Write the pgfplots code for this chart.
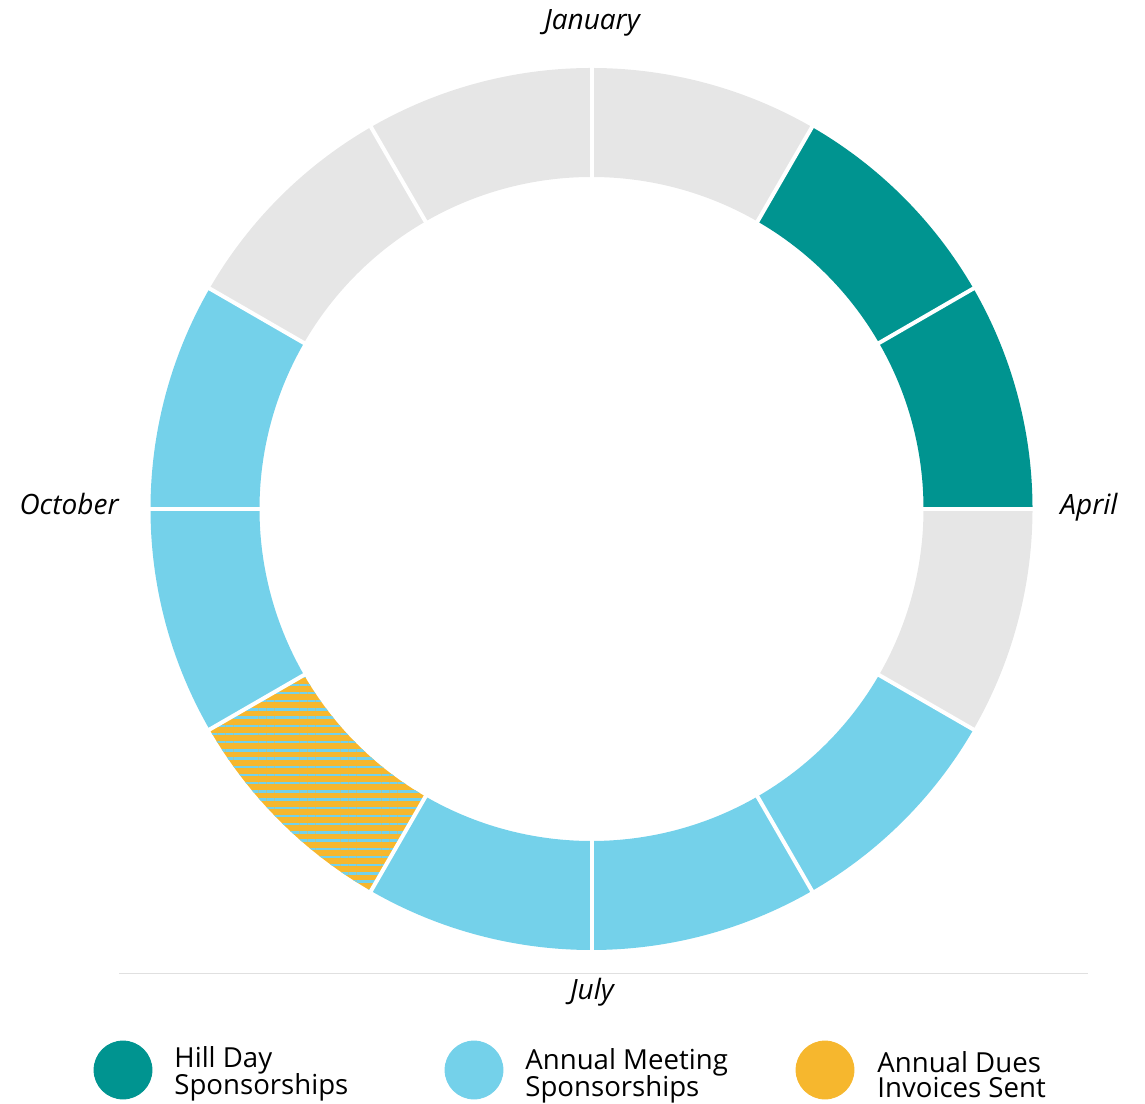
\documentclass[border=0pt]{standalone}
\usepackage{pgfplots}
\pgfplotsset{compat=1.18}
\usepackage{pgfplotstable}
\usetikzlibrary{patterns.meta}
\usepackage{fontspec}
\setmainfont{Open Sans}

\definecolor{hillday}{RGB}{0,148,144}
\definecolor{meeting}{RGB}{116,209,234}
\definecolor{dues}{RGB}{246,183,46}
\definecolor{idle}{RGB}{230,230,230}

% one row per month, clockwise from the top
\pgfplotstableread{
month cat
Jan idle
Feb hillday
Mar hillday
Apr idle
May meeting
Jun meeting
Jul meeting
Aug dues
Sep meeting
Oct meeting
Nov idle
Dec idle
}\months

\tikzset{
  idle/.style={fill=idle},
  hillday/.style={fill=hillday},
  meeting/.style={fill=meeting},
  dues/.style={fill=dues, postaction={pattern={Lines[angle=0,distance=4.1pt,line width=1.2pt]}, pattern color=meeting}},
  lbl/.style={font=\itshape\fontsize{14}{16}\selectfont, inner sep=0pt},
  leg/.style={font=\fontsize{13.8}{14}\selectfont, inner sep=0pt, anchor=base west},
}

\begin{document}
\begin{tikzpicture}
\begin{axis}[
  x=0.5pt, y=0.5pt,
  xmin=0, xmax=1145, ymin=0, ymax=1103,
  hide axis, scale only axis, clip=false,
]
% keep the full canvas
\path (axis cs:0,0) rectangle (axis cs:1145,1103);
% ring segments, one per month
\pgfplotsforeachungrouped \m in {0,...,11}{
  \pgfplotstablegetelem{\m}{cat}\of{\months}
  \let\cat\pgfplotsretval
  \pgfmathsetmacro{\angA}{90-30*\m}
  \pgfmathsetmacro{\angB}{60-30*\m}
  \pgfmathsetmacro{\xout}{591.5+441*cos(\angA)}
  \pgfmathsetmacro{\yout}{594+441*sin(\angA)}
  \pgfmathsetmacro{\xin}{591.5+332*cos(\angB)}
  \pgfmathsetmacro{\yin}{594+332*sin(\angB)}
  \edef\seg{\noexpand\path[\cat] (axis cs:\xout,\yout)
    arc[start angle=\angA, end angle=\angB, radius=220.5pt]
    -- (axis cs:\xin,\yin)
    arc[start angle=\angB, end angle=\angA, radius=166pt] -- cycle;}
  \seg
}
% white gaps between months
\pgfplotsforeachungrouped \m in {0,...,11}{
  \pgfmathsetmacro{\angA}{90-30*\m}
  \pgfmathsetmacro{\xout}{591.5+450*cos(\angA)}
  \pgfmathsetmacro{\yout}{594+450*sin(\angA)}
  \pgfmathsetmacro{\xin}{591.5+320*cos(\angA)}
  \pgfmathsetmacro{\yin}{594+320*sin(\angA)}
  \edef\seg{\noexpand\draw[white, line width=2pt] (axis cs:\xin,\yin) -- (axis cs:\xout,\yout);}
  \seg
}

\node[lbl, anchor=base] at (axis cs:592,1073) {January};
\node[lbl, anchor=base west] at (axis cs:1060,588) {April};
\node[lbl, anchor=base] at (axis cs:592,104) {July};
\node[lbl, anchor=base east] at (axis cs:119,588) {October};

\draw[color=black!12, line width=0.5pt] (axis cs:119,130) -- (axis cs:1088,130);

% legend
\addplot[only marks, mark=*, mark size=14.5pt, color=hillday] coordinates {(123,33)};
\addplot[only marks, mark=*, mark size=14.5pt, color=meeting] coordinates {(474,33)};
\addplot[only marks, mark=*, mark size=14.5pt, color=dues] coordinates {(825,33)};

\node[leg] at (axis cs:174,36) {Hill Day};
\node[leg] at (axis cs:174,9) {Sponsorships};
\node[leg] at (axis cs:525,34) {Annual Meeting};
\node[leg] at (axis cs:525,7) {Sponsorships};
\node[leg] at (axis cs:877,31) {Annual Dues};
\node[leg] at (axis cs:877,6) {Invoices Sent};
\end{axis}
\end{tikzpicture}
\end{document}
